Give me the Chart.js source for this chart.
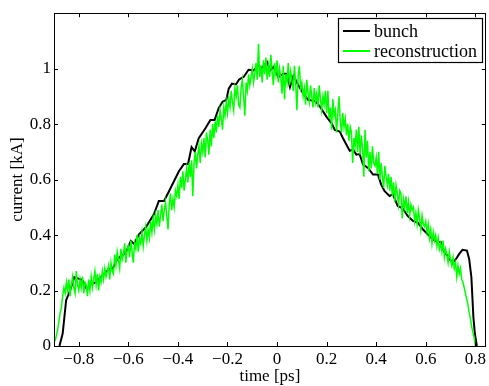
<!DOCTYPE html>
<html lang="en">
<head>
<meta charset="UTF-8">
<title>bunch current</title>
<script src="https://cdn.jsdelivr.net/npm/chart.js@4.4.1/dist/chart.umd.min.js"></script>
<style>
    html, body { margin: 0; padding: 0; background: #fff; }
    #wrap { width: 489px; height: 386px; }
</style>
</head>
<body>
<div id="wrap"><canvas id="c" width="489" height="386"></canvas></div>
<script>
// bunch profile
const bunchT = [-0.878, -0.865, -0.851, -0.835, -0.818, -0.798, -0.787, -0.768, -0.751, -0.731,
    -0.704, -0.677, -0.664, -0.644, -0.610, -0.590, -0.577, -0.557, -0.530, -0.497,
    -0.477, -0.456, -0.436, -0.396, -0.376, -0.359, -0.345, -0.332, -0.316, -0.289,
    -0.269, -0.252, -0.236, -0.220, -0.205, -0.195, -0.182, -0.166, -0.153, -0.135,
    -0.115, -0.095, -0.075, -0.062, -0.041, -0.028, -0.015, 0.005, 0.025, 0.039,
    0.052, 0.066, 0.086, 0.106, 0.126, 0.153, 0.173, 0.199, 0.220, 0.233,
    0.253, 0.266, 0.280, 0.293, 0.307, 0.320, 0.333, 0.347, 0.367, 0.387,
    0.407, 0.420, 0.434, 0.454, 0.467, 0.487, 0.507, 0.527, 0.548, 0.568,
    0.588, 0.608, 0.628, 0.648, 0.661, 0.675, 0.688, 0.708, 0.722, 0.735,
    0.748, 0.766, 0.775, 0.784, 0.792, 0.798, 0.806];
const bunchI = [0.000, 0.045, 0.165, 0.200, 0.248, 0.242, 0.239, 0.206, 0.222, 0.230,
    0.254, 0.278, 0.278, 0.314, 0.338, 0.379, 0.368, 0.403, 0.427, 0.475,
    0.523, 0.523, 0.558, 0.630, 0.656, 0.656, 0.717, 0.702, 0.749, 0.785,
    0.815, 0.815, 0.857, 0.881, 0.887, 0.928, 0.946, 0.943, 0.961, 0.970,
    0.996, 0.994, 1.012, 1.002, 1.024, 0.994, 1.006, 0.970, 0.982, 0.982,
    0.934, 0.974, 0.940, 0.910, 0.887, 0.884, 0.863, 0.827, 0.803, 0.779,
    0.773, 0.749, 0.726, 0.704, 0.708, 0.690, 0.692, 0.654, 0.642, 0.618,
    0.618, 0.582, 0.558, 0.541, 0.547, 0.505, 0.496, 0.469, 0.451, 0.445,
    0.421, 0.403, 0.385, 0.374, 0.374, 0.338, 0.326, 0.298, 0.314, 0.332,
    0.347, 0.344, 0.314, 0.248, 0.105, 0.045, 0.000];

// reconstruction, one reading every 0.005 ps (ten per row)
const reconT = [
    -0.900, -0.895, -0.890, -0.885, -0.880, -0.875, -0.870, -0.865, -0.860, -0.855,
    -0.850, -0.845, -0.840, -0.835, -0.830, -0.825, -0.820, -0.815, -0.810, -0.805,
    -0.800, -0.795, -0.790, -0.785, -0.780, -0.775, -0.770, -0.765, -0.760, -0.755,
    -0.750, -0.745, -0.740, -0.735, -0.730, -0.725, -0.720, -0.715, -0.710, -0.705,
    -0.700, -0.695, -0.690, -0.685, -0.680, -0.675, -0.670, -0.665, -0.660, -0.655,
    -0.650, -0.645, -0.640, -0.635, -0.630, -0.625, -0.620, -0.615, -0.610, -0.605,
    -0.600, -0.595, -0.590, -0.585, -0.580, -0.575, -0.570, -0.565, -0.560, -0.555,
    -0.550, -0.545, -0.540, -0.535, -0.530, -0.525, -0.520, -0.515, -0.510, -0.505,
    -0.500, -0.495, -0.490, -0.485, -0.480, -0.475, -0.470, -0.465, -0.460, -0.455,
    -0.450, -0.445, -0.440, -0.435, -0.430, -0.425, -0.420, -0.415, -0.410, -0.405,
    -0.400, -0.395, -0.390, -0.385, -0.380, -0.375, -0.370, -0.365, -0.360, -0.355,
    -0.350, -0.345, -0.340, -0.335, -0.330, -0.325, -0.320, -0.315, -0.310, -0.305,
    -0.300, -0.295, -0.290, -0.285, -0.280, -0.275, -0.270, -0.265, -0.260, -0.255,
    -0.250, -0.245, -0.240, -0.235, -0.230, -0.225, -0.220, -0.215, -0.210, -0.205,
    -0.200, -0.195, -0.190, -0.185, -0.180, -0.175, -0.170, -0.165, -0.160, -0.155,
    -0.150, -0.145, -0.140, -0.135, -0.130, -0.125, -0.120, -0.115, -0.110, -0.105,
    -0.100, -0.095, -0.090, -0.085, -0.080, -0.075, -0.070, -0.065, -0.060, -0.055,
    -0.050, -0.045, -0.040, -0.035, -0.030, -0.025, -0.020, -0.015, -0.010, -0.005,
    0.000, 0.005, 0.010, 0.015, 0.020, 0.025, 0.030, 0.035, 0.040, 0.045,
    0.050, 0.055, 0.060, 0.065, 0.070, 0.075, 0.080, 0.085, 0.090, 0.095,
    0.100, 0.105, 0.110, 0.115, 0.120, 0.125, 0.130, 0.135, 0.140, 0.145,
    0.150, 0.155, 0.160, 0.165, 0.170, 0.175, 0.180, 0.185, 0.190, 0.195,
    0.200, 0.205, 0.210, 0.215, 0.220, 0.225, 0.230, 0.235, 0.240, 0.245,
    0.250, 0.255, 0.260, 0.265, 0.270, 0.275, 0.280, 0.285, 0.290, 0.295,
    0.300, 0.305, 0.310, 0.315, 0.320, 0.325, 0.330, 0.335, 0.340, 0.345,
    0.350, 0.355, 0.360, 0.365, 0.370, 0.375, 0.380, 0.385, 0.390, 0.395,
    0.400, 0.405, 0.410, 0.415, 0.420, 0.425, 0.430, 0.435, 0.440, 0.445,
    0.450, 0.455, 0.460, 0.465, 0.470, 0.475, 0.480, 0.485, 0.490, 0.495,
    0.500, 0.505, 0.510, 0.515, 0.520, 0.525, 0.530, 0.535, 0.540, 0.545,
    0.550, 0.555, 0.560, 0.565, 0.570, 0.575, 0.580, 0.585, 0.590, 0.595,
    0.600, 0.605, 0.610, 0.615, 0.620, 0.625, 0.630, 0.635, 0.640, 0.645,
    0.650, 0.655, 0.660, 0.665, 0.670, 0.675, 0.680, 0.685, 0.690, 0.695,
    0.700, 0.705, 0.710, 0.715, 0.720, 0.725, 0.730, 0.735, 0.740, 0.745,
    0.750, 0.755, 0.760, 0.765, 0.770, 0.775, 0.780, 0.785, 0.790, 0.795,
    0.800];
const reconI = [
    0.02, 0.02, 0.04, 0.06, 0.09, 0.12, 0.14, 0.18, 0.21, 0.19,
    0.23, 0.20, 0.24, 0.18, 0.22, 0.25, 0.21, 0.19, 0.27, 0.22,
    0.20, 0.24, 0.21, 0.25, 0.19, 0.23, 0.22, 0.18, 0.24, 0.20,
    0.25, 0.21, 0.24, 0.27, 0.22, 0.26, 0.20, 0.25, 0.23, 0.27,
    0.24, 0.28, 0.25, 0.27, 0.29, 0.24, 0.30, 0.27, 0.26, 0.33,
    0.29, 0.34, 0.31, 0.28, 0.35, 0.31, 0.33, 0.37, 0.30, 0.35,
    0.36, 0.32, 0.38, 0.34, 0.30, 0.37, 0.35, 0.40, 0.34, 0.39,
    0.37, 0.41, 0.36, 0.40, 0.43, 0.38, 0.42, 0.39, 0.45, 0.41,
    0.46, 0.42, 0.47, 0.44, 0.49, 0.43, 0.47, 0.51, 0.45, 0.49,
    0.52, 0.47, 0.42, 0.51, 0.55, 0.49, 0.53, 0.50, 0.56, 0.54,
    0.58, 0.53, 0.61, 0.57, 0.63, 0.56, 0.60, 0.64, 0.59, 0.66,
    0.61, 0.67, 0.54, 0.66, 0.70, 0.64, 0.69, 0.72, 0.66, 0.73,
    0.70, 0.75, 0.68, 0.77, 0.74, 0.69, 0.78, 0.72, 0.80, 0.75,
    0.81, 0.77, 0.83, 0.79, 0.85, 0.82, 0.78, 0.86, 0.83, 0.88,
    0.84, 0.89, 0.86, 0.92, 0.88, 0.85, 0.93, 0.90, 0.94, 0.87,
    0.86, 0.93, 0.96, 0.90, 0.83, 0.95, 0.92, 0.98, 0.94, 0.97,
    1.00, 0.95, 0.98, 1.02, 0.96, 1.09, 0.97, 1.01, 0.95, 1.03,
    0.98, 1.04, 0.96, 1.01, 0.97, 1.05, 0.99, 0.94, 1.02, 0.98,
    1.03, 0.95, 1.00, 0.97, 0.91, 1.01, 0.89, 0.98, 0.95, 1.02,
    0.94, 0.99, 0.96, 0.92, 1.01, 0.95, 0.85, 0.97, 1.01, 0.93,
    0.95, 0.90, 0.93, 0.87, 0.96, 0.91, 0.88, 0.94, 0.90, 0.86,
    0.93, 0.88, 0.91, 0.86, 0.94, 0.89, 0.85, 0.90, 0.87, 0.92,
    0.84, 0.92, 0.82, 0.86, 0.78, 0.89, 0.83, 0.85, 0.77, 0.84,
    0.90, 0.81, 0.77, 0.84, 0.79, 0.82, 0.76, 0.80, 0.74, 0.79,
    0.77, 0.66, 0.75, 0.72, 0.78, 0.70, 0.79, 0.69, 0.76, 0.71,
    0.61, 0.78, 0.68, 0.74, 0.63, 0.70, 0.64, 0.72, 0.66, 0.65,
    0.68, 0.62, 0.70, 0.60, 0.66, 0.61, 0.57, 0.65, 0.61, 0.58,
    0.62, 0.56, 0.61, 0.54, 0.59, 0.52, 0.58, 0.55, 0.51, 0.56,
    0.55, 0.46, 0.53, 0.50, 0.54, 0.48, 0.52, 0.47, 0.51, 0.49,
    0.50, 0.45, 0.48, 0.44, 0.49, 0.46, 0.42, 0.47, 0.44, 0.43,
    0.45, 0.41, 0.44, 0.39, 0.42, 0.37, 0.41, 0.38, 0.40, 0.36,
    0.39, 0.35, 0.37, 0.34, 0.38, 0.32, 0.35, 0.33, 0.30, 0.34,
    0.31, 0.29, 0.32, 0.28, 0.30, 0.25, 0.29, 0.26, 0.28, 0.24,
    0.23, 0.21, 0.19, 0.17, 0.15, 0.12, 0.10, 0.07, 0.05, 0.03,
    0.00];

const xTicks = [-0.8, -0.6, -0.4, -0.2, 0, 0.2, 0.4, 0.6, 0.8];
const yTicks = [0, 0.2, 0.4, 0.6, 0.8, 1];

const serif = '"Liberation Serif", "DejaVu Serif", serif';

function pairs(t, v) {
    return t.map((x, i) => ({ x: x, y: v[i] }));
}

function fmt(v) {
    return String(Math.round(v * 10) / 10).replace('-', '\u2212');
}

// box, inward ticks on all four sides, and the legend in the corner
const frame = {
    id: 'frame',
    afterDraw(chart) {
        const ctx = chart.ctx;
        const a = chart.chartArea;
        const xs = chart.scales.x, ys = chart.scales.y;
        ctx.save();
        ctx.strokeStyle = '#000';
        ctx.lineWidth = 1;
        ctx.beginPath();
        xTicks.forEach(v => {
            const px = Math.round(xs.getPixelForValue(v)) + 0.5;
            ctx.moveTo(px, a.bottom); ctx.lineTo(px, a.bottom - 4);
            ctx.moveTo(px, a.top); ctx.lineTo(px, a.top + 4);
        });
        yTicks.forEach(v => {
            const py = Math.round(ys.getPixelForValue(v)) + 0.5;
            ctx.moveTo(a.left, py); ctx.lineTo(a.left + 4, py);
            ctx.moveTo(a.right, py); ctx.lineTo(a.right - 4, py);
        });
        ctx.stroke();
        ctx.strokeRect(Math.round(a.left) + 0.5, Math.round(a.top) + 0.5,
            Math.round(a.right - a.left) - 1, Math.round(a.bottom - a.top));

        // legend
        const lx = 338, ly = 18, lw = 144, lh = 44;
        ctx.fillStyle = '#fff';
        ctx.fillRect(lx, ly, lw, lh);
        ctx.lineWidth = 1.2;
        ctx.strokeRect(lx + 0.5, ly + 0.5, lw, lh);
        ctx.font = '18px ' + serif;
        ctx.textBaseline = 'middle';
        chart.data.datasets.slice().reverse().forEach((ds, i) => {
            const cy = ly + 13 + i * 20;
            ctx.strokeStyle = ds.borderColor;
            ctx.lineWidth = 2;
            ctx.beginPath();
            ctx.moveTo(lx + 5, cy); ctx.lineTo(lx + 32, cy);
            ctx.stroke();
            ctx.fillStyle = '#000';
            ctx.fillText(ds.label, lx + 36, cy + 1);
        });
        ctx.restore();
    }
};

new Chart(document.getElementById('c'), {
    type: 'line',
    data: {
        datasets: [
            {
                label: 'reconstruction',
                data: pairs(reconT, reconI),
                borderColor: '#00ff00',
                borderWidth: 1.5,
                pointRadius: 0,
                tension: 0
            },
            {
                label: 'bunch',
                data: pairs(bunchT, bunchI),
                borderColor: '#000000',
                borderWidth: 2,
                pointRadius: 0,
                tension: 0
            }
        ]
    },
    options: {
        responsive: false,
        animation: false,
        events: [],
        layout: { padding: { top: 11, right: 1, left: 0, bottom: 0 } },
        plugins: { legend: { display: false }, tooltip: { enabled: false } },
        scales: {
            x: {
                type: 'linear',
                min: -0.9,
                max: 0.842,
                grid: { display: false, drawTicks: false },
                border: { display: false },
                afterBuildTicks: s => { s.ticks = xTicks.map(v => ({ value: v })); },
                afterFit: s => { s.height = 40; },
                ticks: {
                    color: '#000',
                    padding: 3,
                    maxRotation: 0,
                    autoSkip: false,
                    font: { family: serif, size: 17 },
                    callback: v => fmt(v)
                },
                title: {
                    display: true,
                    text: 'time [ps]',
                    color: '#000',
                    padding: { top: 0, bottom: -1 },
                    font: { family: serif, size: 17 }
                }
            },
            y: {
                min: 0,
                max: 1.2,
                grid: { display: false, drawTicks: false },
                border: { display: false },
                afterBuildTicks: s => { s.ticks = yTicks.map(v => ({ value: v })); },
                afterFit: s => { s.width = 54; },
                ticks: {
                    color: '#000',
                    padding: 3,
                    font: { family: serif, size: 17 },
                    callback: v => fmt(v)
                },
                title: {
                    display: true,
                    text: 'current [kA]',
                    color: '#000',
                    padding: { top: 7, bottom: 0 },
                    font: { family: serif, size: 17 }
                }
            }
        }
    },
    plugins: [frame]
});
</script>
</body>
</html>
